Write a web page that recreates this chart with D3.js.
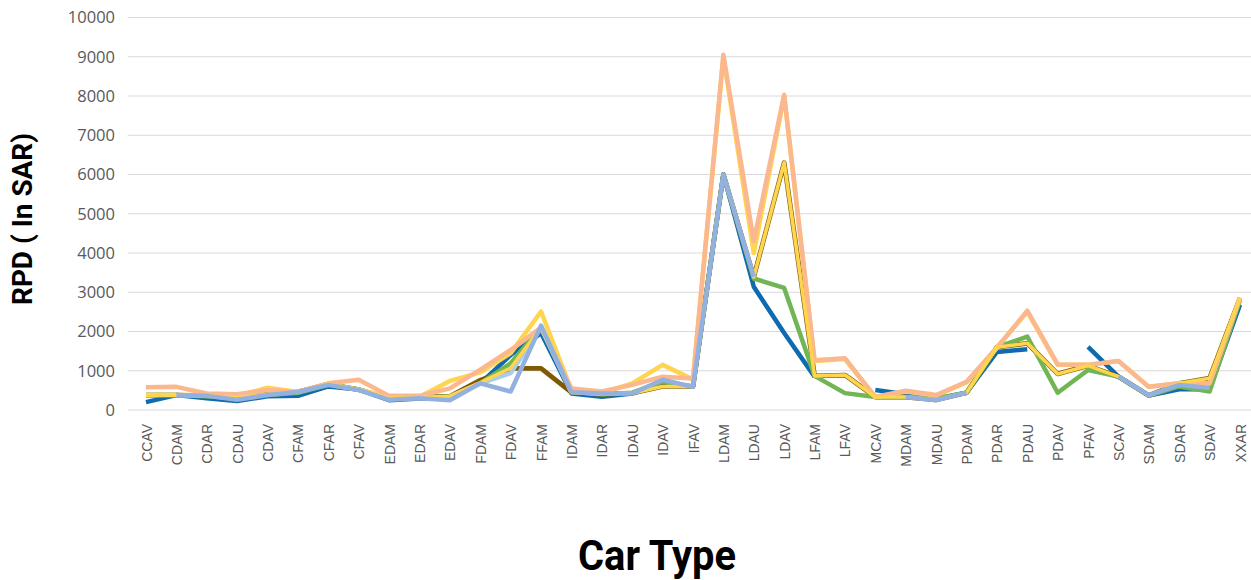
<!DOCTYPE html>
<html>
<head>
<meta charset="utf-8">
<script src="https://cdn.jsdelivr.net/npm/d3@7"></script>
<style>
  body { margin: 0; background: #fff; }
  svg { display: block; }
</style>
</head>
<body>
<svg id="chart"></svg>
<script>
var categories = ["CCAV","CDAM","CDAR","CDAU","CDAV","CFAM","CFAR","CFAV","EDAM","EDAR",
  "EDAV","FDAM","FDAV","FFAM","IDAM","IDAR","IDAU","IDAV","IFAV","LDAM",
  "LDAU","LDAV","LFAM","LFAV","MCAV","MDAM","MDAU","PDAM","PDAR","PDAU",
  "PDAV","PFAV","SCAV","SDAM","SDAR","SDAV","XXAR"];

var yTicks = [0,1000,2000,3000,4000,5000,6000,7000,8000,9000,10000];

// series values, null = no value (gap in the line)
var darkBlue = [200,380,300,230,350,360,600,520,250,290,
  320,680,1400,1960,420,340,420,700,600,6000,
  3140,1960,850,null,510,400,280,440,1480,1550,
  null,1610,850,370,530,530,2680];

var brown = [380,380,360,320,400,460,660,520,300,320,
  350,760,1060,1060,450,400,430,600,600,6000,
  3390,6300,870,890,330,330,260,440,1600,1700,
  920,1130,850,370,680,810,2860];

var green = [380,380,350,300,380,440,640,520,290,300,
  350,680,1190,2100,460,400,440,720,600,6000,
  3350,3110,870,430,330,330,300,440,1600,1870,
  440,1020,850,370,600,470,2800];

var skyBlue = [null,null,null,null,null,null,null,null,null,null,
  330,680,940,2100,450,null,null,null,null,null,
  null,null,null,null,null,null,null,null,null,null,
  null,null,null,null,null,null,null];

var yellowA = [380,380,380,350,570,460,660,520,330,340,
  740,960,1450,2510,500,430,680,1150,780,9000,
  4000,8000,1250,1300,330,470,370,700,1600,2500,
  1150,1150,1250,590,680,680,2860];

var salmon = [580,590,420,400,510,460,680,770,360,360,
  550,1030,1530,2100,550,470,640,850,800,9050,
  4300,8030,1270,1320,330,490,380,720,1580,2530,
  1160,1150,1250,590,680,680,2860];

var yellowB = [380,380,360,320,400,460,660,520,300,320,
  350,700,1070,2100,450,400,430,600,600,6000,
  3390,6300,870,890,330,330,260,440,1600,1700,
  920,1130,850,370,680,810,2860];

var periwinkle = [null,380,360,260,380,460,640,510,260,300,
  250,680,470,2150,450,420,420,770,590,6000,
  3390,null,null,null,null,330,250,440,null,null,
  null,null,850,380,640,560,null];

var seriesList = [
  {name: "s1", values: darkBlue, color: "#0e6bb0", width: 4.5},
  {name: "s2", values: brown, color: "#7f5a00", width: 4.8},
  {name: "s3", values: green, color: "#72b554", width: 4.5},
  {name: "s4", values: skyBlue, color: "#a9cceb", width: 4.5},
  {name: "s5", values: yellowA, color: "#ffd54f", width: 4.5},
  {name: "s6", values: salmon, color: "#fbb78e", width: 4.5},
  {name: "s7", values: yellowB, color: "#ffd54f", width: 3.6},
  {name: "s8", values: periwinkle, color: "#92b0e0", width: 4.5}
];

var svgWidth = 1251,
    svgHeight = 580;

var svg = d3.select("#chart")
  .attr("width", svgWidth)
  .attr("height", svgHeight);

var x = d3.scalePoint().domain(categories).range([146, 1240]);
var y = d3.scaleLinear().domain([0, 10000]).range([410, 17.5]);

// gridlines
svg.append("g")
  .selectAll("line")
  .data(yTicks)
  .enter().append("line")
  .attr("x1", 128)
  .attr("x2", svgWidth)
  .attr("y1", function(d) { return y(d); })
  .attr("y2", function(d) { return y(d); })
  .attr("stroke", "#d9d9d9")
  .attr("stroke-width", 1.2);

// y axis labels
var yAxis = d3.axisLeft(y).tickValues(yTicks).tickFormat(d3.format("d")).tickSize(0).tickPadding(0);
var gy = svg.append("g")
  .attr("transform", "translate(115,0)")
  .call(yAxis);
gy.select(".domain").remove();
gy.selectAll("text")
  .attr("fill", "#595959")
  .style("font-family", "'Open Sans', sans-serif")
  .style("font-size", "16.5px");

// x axis labels
var xAxis = d3.axisBottom(x).tickSize(0).tickPadding(0);
var gx = svg.append("g")
  .attr("transform", "translate(0,424)")
  .call(xAxis);
gx.select(".domain").remove();
gx.selectAll("text")
  .attr("fill", "#595959")
  .style("font-family", "'Liberation Sans', Arial, sans-serif")
  .style("font-size", "14px")
  .style("text-anchor", "end")
  .attr("transform", "rotate(-90)")
  .attr("x", 0)
  .attr("y", 0)
  .attr("dy", "0.36em");

// lines
var line = d3.line()
  .defined(function(d) { return d != null; })
  .x(function(d, i) { return x(categories[i]); })
  .y(function(d) { return y(d); });

svg.append("g")
  .selectAll("path")
  .data(seriesList)
  .enter().append("path")
  .attr("fill", "none")
  .attr("stroke", function(d) { return d.color; })
  .attr("stroke-width", function(d) { return d.width; })
  .attr("stroke-linejoin", "round")
  .attr("d", function(d) { return line(d.values); });

// axis titles
svg.append("text")
  .attr("transform", "translate(32,219) rotate(-90)")
  .attr("text-anchor", "middle")
  .attr("textLength", 172)
  .attr("lengthAdjust", "spacingAndGlyphs")
  .style("font-family", "Roboto, sans-serif")
  .style("font-weight", "700")
  .style("font-size", "28px")
  .attr("fill", "#000")
  .text("RPD ( In SAR)");

svg.append("text")
  .attr("x", 657)
  .attr("y", 570)
  .attr("text-anchor", "middle")
  .attr("textLength", 158)
  .attr("lengthAdjust", "spacingAndGlyphs")
  .style("font-family", "Roboto, sans-serif")
  .style("font-weight", "700")
  .style("font-size", "43px")
  .attr("fill", "#000")
  .text("Car Type");
</script>
</body>
</html>
